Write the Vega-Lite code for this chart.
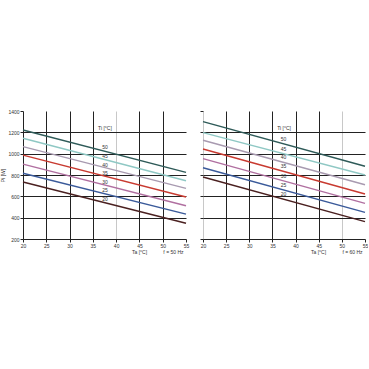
{
  "$schema": "https://vega.github.io/schema/vega-lite/v6.json",
  "padding": {"top": 109, "left": 0, "right": 0, "bottom": 0},
  "background": "white",
  "config": {
    "font": "Liberation Sans",
    "view": {"stroke": null},
    "axis": {"labelFontSize": 5, "labelColor": "#333", "titleFontSize": 5, "titleFontWeight": "normal", "titleColor": "#333", "tickSize": 3, "tickColor": "#222", "domainColor": "#222", "labelPadding": 1, "gridOpacity": 1, "gridWidth": 1, "labelOverlap": false, "labelFlush": false, "tickCount": 30, "format": "d"}
  },
  "datasets": {
    "lines": [
      {"panel": "50", "Ti": 50, "Ta": 20, "P": 1222}, {"panel": "50", "Ti": 50, "Ta": 55, "P": 825},
      {"panel": "50", "Ti": 45, "Ta": 20, "P": 1145}, {"panel": "50", "Ti": 45, "Ta": 55, "P": 746},
      {"panel": "50", "Ti": 40, "Ta": 20, "P": 1066}, {"panel": "50", "Ti": 40, "Ta": 55, "P": 674},
      {"panel": "50", "Ti": 35, "Ta": 20, "P": 987}, {"panel": "50", "Ti": 35, "Ta": 55, "P": 594},
      {"panel": "50", "Ti": 30, "Ta": 20, "P": 902}, {"panel": "50", "Ti": 30, "Ta": 55, "P": 512},
      {"panel": "50", "Ti": 25, "Ta": 20, "P": 816}, {"panel": "50", "Ti": 25, "Ta": 55, "P": 433},
      {"panel": "50", "Ti": 20, "Ta": 20, "P": 734}, {"panel": "50", "Ti": 20, "Ta": 55, "P": 348},
      {"panel": "60", "Ti": 50, "Ta": 20, "P": 1300}, {"panel": "60", "Ti": 50, "Ta": 55, "P": 882},
      {"panel": "60", "Ti": 45, "Ta": 20, "P": 1197}, {"panel": "60", "Ti": 45, "Ta": 55, "P": 800},
      {"panel": "60", "Ti": 40, "Ta": 20, "P": 1126}, {"panel": "60", "Ti": 40, "Ta": 55, "P": 709},
      {"panel": "60", "Ti": 35, "Ta": 20, "P": 1044}, {"panel": "60", "Ti": 35, "Ta": 55, "P": 622},
      {"panel": "60", "Ti": 30, "Ta": 20, "P": 953}, {"panel": "60", "Ti": 30, "Ta": 55, "P": 534},
      {"panel": "60", "Ti": 25, "Ta": 20, "P": 868}, {"panel": "60", "Ti": 25, "Ta": 55, "P": 450},
      {"panel": "60", "Ti": 20, "Ta": 20, "P": 781}, {"panel": "60", "Ti": 20, "Ta": 55, "P": 363}
    ],
    "labels": [
      {"panel": "50", "text": "50", "Ta": 37.6, "P": 1063},
      {"panel": "50", "text": "45", "Ta": 37.6, "P": 978},
      {"panel": "50", "text": "40", "Ta": 37.6, "P": 893},
      {"panel": "50", "text": "35", "Ta": 37.6, "P": 818},
      {"panel": "50", "text": "30", "Ta": 37.6, "P": 735},
      {"panel": "50", "text": "25", "Ta": 37.6, "P": 660},
      {"panel": "50", "text": "20", "Ta": 37.6, "P": 575},
      {"panel": "50", "text": "Ti  [°C]", "Ta": 37.6, "P": 1244},
      {"panel": "50", "text": "f = 50 Hz", "Ta": 52.3, "P": 78},
      {"panel": "60", "text": "50", "Ta": 37.4, "P": 1135},
      {"panel": "60", "text": "45", "Ta": 37.4, "P": 1047},
      {"panel": "60", "text": "40", "Ta": 37.4, "P": 968},
      {"panel": "60", "text": "35", "Ta": 37.4, "P": 880},
      {"panel": "60", "text": "30", "Ta": 37.4, "P": 795},
      {"panel": "60", "text": "25", "Ta": 37.4, "P": 707},
      {"panel": "60", "text": "20", "Ta": 37.4, "P": 622},
      {"panel": "60", "text": "Ti  [°C]", "Ta": 37.5, "P": 1238},
      {"panel": "60", "text": "f = 60 Hz", "Ta": 52.3, "P": 78}
    ]
  },
  "spacing": 10,
  "hconcat": [
    {
      "width": 163,
      "height": 128,
      "layer": [
        {
          "data": {"name": "lines"},
          "transform": [{"filter": "datum.panel === '50'"}],
          "mark": {"type": "line", "strokeWidth": 1.4},
          "encoding": {
            "x": {"field": "Ta", "type": "quantitative", "scale": {"domain": [20, 55], "nice": false, "zero": false},
              "axis": {"values": [20, 25, 30, 35, 40, 45, 50, 55], "title": "Ta  [°C]", "titleX": 116, "titleY": 12, "titleBaseline": "middle", "titleAnchor": "middle",
                "gridColor": {"condition": {"test": "datum.value === 40", "value": "#c8c8c8"}, "value": "#222"},
                "gridOpacity": {"condition": {"test": "datum.value === 55 || datum.value === 20", "value": 0}, "value": 1}}},
            "y": {"field": "P", "type": "quantitative", "scale": {"domain": [200, 1400], "nice": false, "zero": false},
              "axis": {"values": [200, 400, 600, 800, 1000, 1200, 1400], "title": "Pi  [W]", "titlePadding": 2,
                "gridColor": "#222",
                "gridOpacity": {"condition": {"test": "datum.value === 1400 || datum.value === 200", "value": 0}, "value": 1}}},
            "color": {"field": "Ti", "type": "nominal", "legend": null,
              "scale": {"domain": [50, 45, 40, 35, 30, 25, 20], "range": ["#2e5a58", "#8fc8c4", "#a89ab0", "#c83a30", "#b06fa0", "#3a5a9a", "#4a2020"]}},
            "detail": {"field": "Ti"}
          }
        },
        {
          "data": {"name": "labels"},
          "transform": [{"filter": "datum.panel === '50'"}],
          "mark": {"type": "text", "fontSize": 5, "fill": "#333"},
          "encoding": {
            "x": {"field": "Ta", "type": "quantitative"},
            "y": {"field": "P", "type": "quantitative"},
            "text": {"field": "text"}
          }
        }
      ]
    },
    {
      "width": 162,
      "height": 128,
      "layer": [
        {
          "data": {"name": "lines"},
          "transform": [{"filter": "datum.panel === '60'"}],
          "mark": {"type": "line", "strokeWidth": 1.4},
          "encoding": {
            "x": {"field": "Ta", "type": "quantitative", "scale": {"domain": [20, 55], "nice": false, "zero": false},
              "axis": {"values": [20, 25, 30, 35, 40, 45, 50, 55], "title": "Ta  [°C]", "titleX": 115, "titleY": 12, "titleBaseline": "middle", "titleAnchor": "middle",
                "gridColor": {"condition": {"test": "datum.value === 50 || datum.value === 20", "value": "#c8c8c8"}, "value": "#222"},
                "gridOpacity": {"condition": {"test": "datum.value === 55", "value": 0}, "value": 1}}},
            "y": {"field": "P", "type": "quantitative", "scale": {"domain": [200, 1400], "nice": false, "zero": false},
              "axis": {"values": [200, 400, 600, 800, 1000, 1200, 1400], "title": null, "labels": false, "domain": false,
                "gridColor": "#222",
                "gridOpacity": {"condition": {"test": "datum.value === 1400 || datum.value === 200", "value": 0}, "value": 1}}},
            "color": {"field": "Ti", "type": "nominal", "legend": null,
              "scale": {"domain": [50, 45, 40, 35, 30, 25, 20], "range": ["#2e5a58", "#8fc8c4", "#a89ab0", "#c83a30", "#b06fa0", "#3a5a9a", "#4a2020"]}},
            "detail": {"field": "Ti"}
          }
        },
        {
          "data": {"name": "labels"},
          "transform": [{"filter": "datum.panel === '60'"}],
          "mark": {"type": "text", "fontSize": 5, "fill": "#333"},
          "encoding": {
            "x": {"field": "Ta", "type": "quantitative"},
            "y": {"field": "P", "type": "quantitative"},
            "text": {"field": "text"}
          }
        }
      ]
    }
  ]
}
